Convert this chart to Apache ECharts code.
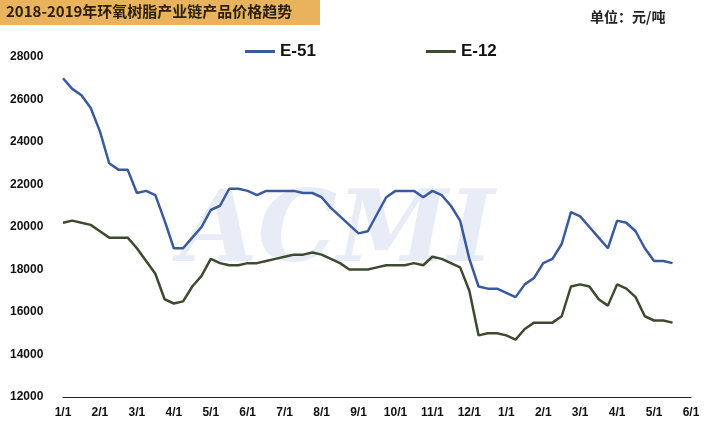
<!DOCTYPE html><html><head><meta charset="utf-8"><script src="https://cdn.jsdelivr.net/npm/echarts@6/dist/echarts.min.js"></script></head><body style="margin:0"><div id="c" style="width:716px;height:430px"></div><script>
const months=['1/1','2/1','3/1','4/1','5/1','6/1','7/1','8/1','9/1','10/1','11/1','12/1','1/1','2/1','3/1','4/1','5/1','6/1'];
const categories=[];months.forEach((m,i)=>{if(i<17){categories.push(m,m+'a',m+'b',m+'c');}else categories.push(m);});
const e51=[27000,26500,26200,25600,24500,23000,22700,22700,21600,21700,21500,20300,19000,19000,19500,20000,20800,21000,21800,21800,21700,21500,21700,21700,21700,21700,21600,21600,21400,20900,20500,20100,19700,19800,20600,21400,21700,21700,21700,21400,21700,21500,21000,20300,18500,17200,17100,17100,16900,16700,17300,17600,18300,18500,19200,20700,20500,20000,19500,19000,20300,20200,19800,19000,18400,18400,18300];
const e12=[20200,20300,20200,20100,19800,19500,19500,19500,19000,18400,17800,16600,16400,16500,17200,17700,18500,18300,18200,18200,18300,18300,18400,18500,18600,18700,18700,18800,18700,18500,18300,18000,18000,18000,18100,18200,18200,18200,18300,18200,18600,18500,18300,18100,17000,14900,15000,15000,14900,14700,15200,15500,15500,15500,15800,17200,17300,17200,16600,16300,17300,17100,16700,15800,15600,15600,15500];
const c=echarts.init(document.getElementById('c'));
c.setOption({
 animation:false,
 graphic:[{type:'rect',left:0,top:0,shape:{width:320,height:25},style:{fill:'#e9b35e'}},
 {type:'text',left:6,top:4,style:{text:'2018-2019年环氧树脂产业链产品价格趋势',font:'bold 15px "Noto Sans CJK SC"',fill:'#2a2010'}},
 {type:'text',left:590,top:10,style:{text:'单位：元/吨',font:'bold 14px "Noto Sans CJK SC"',fill:'#222'}},
 {type:'text',left:180,top:185,z:-1,style:{text:'ACMI',font:'italic bold 100px "DejaVu Serif"',fill:'rgba(140,160,210,0.2)'}}],
 legend:{top:38,left:240,itemGap:110,itemWidth:30,itemHeight:3,icon:'rect',textStyle:{fontSize:17,fontWeight:'bold',color:'#111',fontFamily:'Liberation Sans'},data:['E-51','E-12']},
 grid:{left:63,right:25,top:57,bottom:33},
 xAxis:{type:'category',data:categories,boundaryGap:false,axisTick:{show:false},axisLine:{lineStyle:{color:'#222'}},
  axisLabel:{interval:3,color:'#111',fontWeight:'bold',fontSize:12,margin:10,formatter:v=>v.replace(/[abc]$/,'')}},
 yAxis:{type:'value',min:12000,max:28000,interval:2000,splitLine:{show:false},axisLine:{show:false},axisTick:{show:false},
  axisLabel:{color:'#111',fontWeight:'bold',fontSize:12,align:'left',margin:53,formatter:v=>String(v)}},
 series:[{name:'E-51',type:'line',data:e51,showSymbol:false,lineStyle:{color:'#3b5a9c',width:2.5},itemStyle:{color:'#3b5a9c'}},
 {name:'E-12',type:'line',data:e12,showSymbol:false,lineStyle:{color:'#3d4a30',width:2.5},itemStyle:{color:'#3d4a30'}}]
});
</script></body></html>
